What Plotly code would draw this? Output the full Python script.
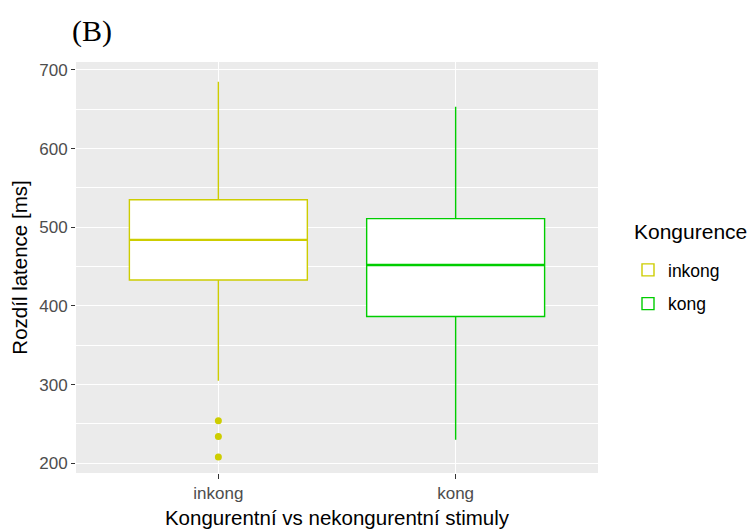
import plotly.graph_objects as go

# Summary statistics of latency differences per congruence condition
categories = ["inkong", "kong"]
q1 = [433, 386.5]
median = [484, 452]
q3 = [535, 511]
lower_whisker = [305, 230]
upper_whisker = [685, 653]
outliers_inkong = [254, 234, 208]

colors = ["#CDCD00", "#00CD00"]
box_width = 0.75
sans = "Liberation Sans, Arial, sans-serif"

fig = go.Figure()

for i, cat in enumerate(categories):
    fig.add_trace(go.Box(
        x=[i], q1=[q1[i]], median=[median[i]], q3=[q3[i]],
        lowerfence=[lower_whisker[i]], upperfence=[upper_whisker[i]],
        width=box_width, whiskerwidth=0,
        fillcolor="white", line=dict(color=colors[i], width=1.4),
        name=cat, legendgroup=cat, boxpoints=False, hoverinfo="skip",
    ))
    # thicker median bar, as in ggplot's boxplot
    fig.add_trace(go.Scatter(
        x=[i - box_width / 2, i + box_width / 2], y=[median[i], median[i]],
        mode="lines", line=dict(color=colors[i], width=2.4),
        showlegend=False, legendgroup=cat, hoverinfo="skip",
    ))

fig.add_trace(go.Scatter(
    x=[0] * len(outliers_inkong), y=outliers_inkong, mode="markers",
    marker=dict(color=colors[0], size=7), showlegend=False,
    legendgroup=categories[0], hoverinfo="skip",
))

tick_font = dict(family=sans, size=17, color="#4D4D4D")
title_font = dict(family=sans, size=20.5, color="black")

fig.update_layout(
    width=748, height=531,
    margin=dict(l=76, r=150, t=62, b=58),
    paper_bgcolor="white", plot_bgcolor="#EBEBEB",
    title=dict(text="(B)", x=72 / 748, xanchor="left", y=1 - 30 / 531, yanchor="middle",
               font=dict(family="Liberation Serif, Times New Roman, serif", size=30, color="black")),
    xaxis=dict(
        range=[-0.6, 1.6], tickvals=[0, 1], ticktext=categories, automargin=False,
        showgrid=True, gridcolor="white", gridwidth=1.4, zeroline=False,
        ticks="outside", ticklen=5, tickcolor="#333333", tickfont=tick_font,
        title=dict(text="Kongurentní vs nekongurentní stimuly", font=title_font, standoff=8),
    ),
    yaxis=dict(
        range=[187.7, 710], tickvals=[200, 300, 400, 500, 600, 700], automargin=False,
        showgrid=True, gridcolor="white", gridwidth=1.4, zeroline=False,
        ticks="outside", ticklen=4, tickcolor="#333333", tickfont=tick_font,
        minor=dict(tickvals=[250, 350, 450, 550, 650], showgrid=True,
                   gridcolor="white", gridwidth=0.8, ticks=""),
        title=dict(text="Rozdíl latence [ms]", font=title_font, standoff=6),
    ),
    legend=dict(
        x=(628 - 76) / 522, xanchor="left", y=(473 - 252) / 411, yanchor="top",
        font=dict(family=sans, size=17.5, color="black"),
        traceorder="grouped", tracegroupgap=8, bgcolor="white",
    ),
    annotations=[dict(
        text="Kongurence", xref="paper", yref="paper",
        x=(632 - 76) / 522, xanchor="left", y=(473 - 231) / 411, yanchor="middle",
        showarrow=False, font=dict(family=sans, size=21, color="black"),
    )],
    showlegend=True,
)

fig.write_html("out.html")
